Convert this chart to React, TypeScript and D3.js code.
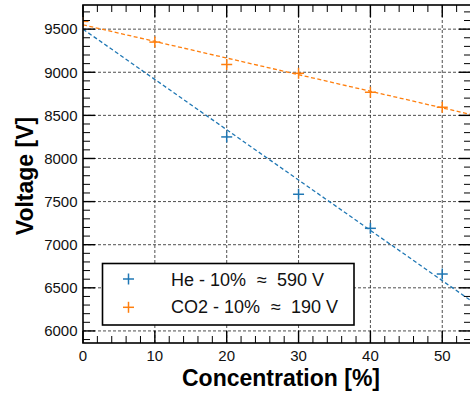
import React from "react";
import * as d3 from "d3";

const heConcentrations = [20, 30, 40, 50];
const heVoltage = [8250, 7585, 7190, 6660];
const co2Concentrations = [0, 10, 20, 30, 40, 50];
const co2Voltage = [9590, 9350, 9090, 8988, 8768, 8594];
const fitX = [0, 54];
const heFit = [9500, 6350];
const co2Fit = [9550, 8510];
const xTicks = [0, 10, 20, 30, 40, 50];
const yTicks = [6000, 6500, 7000, 7500, 8000, 8500, 9000, 9500];
const legendNames = ["He - 10%", "CO2 - 10%"];
const legendValues = ["590 V", "190 V"];
const colors = ["#1f77b4", "#ff7f0e"];

const W = 470;
const H = 394;
const L = 83;
const R = 471;
const T = 5;
const B = 343;
const FONT = "'Liberation Sans', Arial, Helvetica, sans-serif";

export default function App() {
  const x = d3.scaleLinear().domain([0, 54]).range([L, R]);
  const y = d3.scaleLinear().domain([5860, 9780]).range([B, T]);
  const xMinor = d3.range(0, 55, 2).filter((v) => v % 10 !== 0);
  const yMinor = d3.range(5900, 9800, 100).filter((v) => v % 500 !== 0);
  const line = d3
    .line<[number, number]>()
    .x((d) => x(d[0]))
    .y((d) => y(d[1]));
  const series = [
    { conc: heConcentrations, vals: heVoltage, fit: heFit, color: colors[0] },
    { conc: co2Concentrations, vals: co2Voltage, fit: co2Fit, color: colors[1] },
  ];
  const plus = (cx: number, cy: number, c: string, k: string) => (
    <g key={k} stroke={c} strokeWidth={1.5}>
      <line x1={cx - 5.5} x2={cx + 5.5} y1={cy} y2={cy} />
      <line x1={cx} x2={cx} y1={cy - 5.5} y2={cy + 5.5} />
    </g>
  );
  return (
    <svg
      width={W}
      height={H}
      style={{ position: "absolute", left: 0, top: 0, background: "#fff" }}
      fontFamily={FONT}
    >
      <defs>
        <clipPath id="plot">
          <rect x={L} y={T} width={R - L} height={B - T} />
        </clipPath>
      </defs>
      <rect width={W} height={H} fill="#fff" />
      {/* grid */}
      <g stroke="#222" strokeWidth={0.8} strokeDasharray="3,2">
        {xTicks
          .filter((v) => v > 0)
          .map((v) => (
            <line key={"gx" + v} x1={x(v)} x2={x(v)} y1={T} y2={B} />
          ))}
        {yTicks.map((v) => (
          <line key={"gy" + v} x1={L} x2={R} y1={y(v)} y2={y(v)} />
        ))}
      </g>
      {/* fits and points */}
      <g clipPath="url(#plot)">
        {series.map((s, i) => (
          <path
            key={"fit" + i}
            d={line(fitX.map((v, j) => [v, s.fit[j]]) as [number, number][]) || ""}
            fill="none"
            stroke={s.color}
            strokeWidth={1.3}
            strokeDasharray="4,2.5"
          />
        ))}
        {series.map((s, i) =>
          s.conc.map((c, j) =>
            plus(x(c), y(s.vals[j]), s.color, "p" + i + "-" + j)
          )
        )}
      </g>
      {/* ticks */}
      <g stroke="#000" strokeWidth={1}>
        {xTicks.map((v) => (
          <g key={"tx" + v}>
            <line x1={x(v)} x2={x(v)} y1={B} y2={B - 12} strokeWidth={1.4} />
            <line x1={x(v)} x2={x(v)} y1={T} y2={T + 12} strokeWidth={1.4} />
          </g>
        ))}
        {xMinor.map((v) => (
          <g key={"mx" + v}>
            <line x1={x(v)} x2={x(v)} y1={B} y2={B - 7} />
            <line x1={x(v)} x2={x(v)} y1={T} y2={T + 7} />
          </g>
        ))}
        {yTicks.map((v) => (
          <g key={"ty" + v}>
            <line x1={L} x2={L + 12} y1={y(v)} y2={y(v)} strokeWidth={1.4} />
            <line x1={R} x2={R - 12} y1={y(v)} y2={y(v)} strokeWidth={1.4} />
          </g>
        ))}
        {yMinor.map((v) => (
          <g key={"my" + v}>
            <line x1={L} x2={L + 7} y1={y(v)} y2={y(v)} />
            <line x1={R} x2={R - 7} y1={y(v)} y2={y(v)} />
          </g>
        ))}
      </g>
      <rect
        x={L}
        y={T}
        width={R - L}
        height={B - T}
        fill="none"
        stroke="#000"
        strokeWidth={1.6}
      />
      {/* tick labels */}
      <g fontSize={15} fill="#111">
        {xTicks.map((v) => (
          <text key={"lx" + v} x={x(v)} y={361} textAnchor="middle">
            {v}
          </text>
        ))}
        {yTicks.map((v) => (
          <text key={"ly" + v} x={77.5} y={y(v) + 5.3} textAnchor="end">
            {v}
          </text>
        ))}
      </g>
      {/* axis titles */}
      <text x={281} y={386} textAnchor="middle" fontSize={23} fontWeight="bold" fill="#000">
        Concentration [%]
      </text>
      <text
        transform="translate(33,176) rotate(-90)"
        textAnchor="middle"
        fontSize={23}
        fontWeight="bold"
        fill="#000"
      >
        Voltage [V]
      </text>
      {/* legend */}
      <rect x={102.5} y={263.5} width={251.5} height={61.5} fill="#fff" stroke="#000" strokeWidth={1.6} />
      {legendNames.map((n, i) => (
        <g key={"lg" + i}>
          {plus(128.5, 279 + i * 28.3, colors[i], "lgp" + i)}
          <text x={171} y={285.5 + i * 27.5} fontSize={18} fill="#111">
            <tspan>{n}</tspan>
            <tspan dx={11}>≈</tspan>
            <tspan dx={10}>{legendValues[i]}</tspan>
          </text>
        </g>
      ))}
    </svg>
  );
}
